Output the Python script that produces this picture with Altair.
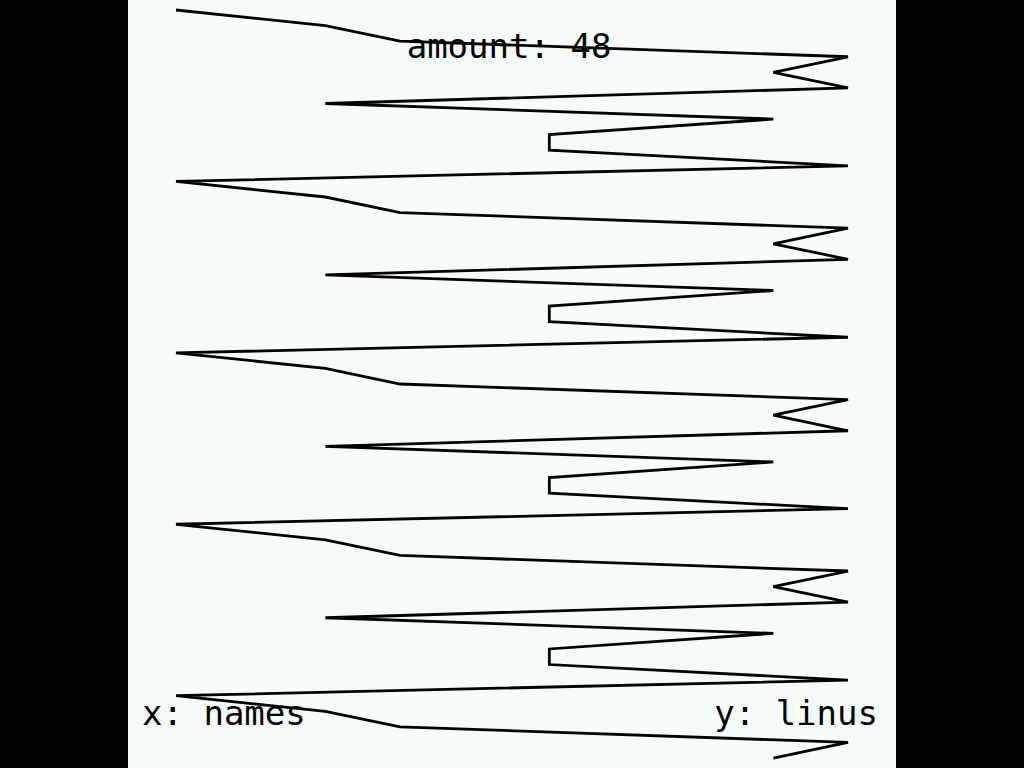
import altair as alt
import pandas as pd

# x value of each point, in drawing order (index = position in list)
names = [0, 2, 3, 9, 8, 9, 2, 8, 5, 5, 9,
         0, 2, 3, 9, 8, 9, 2, 8, 5, 5, 9,
         0, 2, 3, 9, 8, 9, 2, 8, 5, 5, 9,
         0, 2, 3, 9, 8, 9, 2, 8, 5, 5, 9,
         0, 2, 3, 9, 8]
linus = list(range(len(names)))

title_text = ["amount: 48"]
x_label = ["x: names"]
y_label = ["y: linus"]

df = pd.DataFrame({"names": names, "linus": linus})

FONT = "DejaVu Sans Mono"
FS = 34

line = alt.Chart(df).mark_line(color="black", strokeWidth=2.8, clip=True).encode(
    x=alt.X("names:Q", axis=None,
            scale=alt.Scale(domain=[-0.643, 9.643], nice=False, zero=False)),
    y=alt.Y("linus:Q", axis=None,
            scale=alt.Scale(domain=[-0.642, 48.64], nice=False, zero=False, reverse=True)),
    order="linus:Q",
)

t1 = alt.Chart(pd.DataFrame({"t": title_text})).mark_text(
    font=FONT, fontSize=FS, color="black", align="center", baseline="alphabetic"
).encode(text="t:N", x=alt.value(381), y=alt.value(58))

t2 = alt.Chart(pd.DataFrame({"t": x_label})).mark_text(
    font=FONT, fontSize=FS, color="black", align="left", baseline="alphabetic"
).encode(text="t:N", x=alt.value(14), y=alt.value(725))

t3 = alt.Chart(pd.DataFrame({"t": y_label})).mark_text(
    font=FONT, fontSize=FS, color="black", align="right", baseline="alphabetic"
).encode(text="t:N", x=alt.value(750), y=alt.value(725))

chart = alt.layer(line, t1, t2, t3).properties(
    width=768, height=768,
    padding={"left": 128, "right": 128, "top": 0, "bottom": 0},
    autosize="none",
    background="#000000",
).configure_view(fill="#f5fbf8", stroke=None)

chart.save("out.html", embed_options={"renderer": "svg", "actions": False})
